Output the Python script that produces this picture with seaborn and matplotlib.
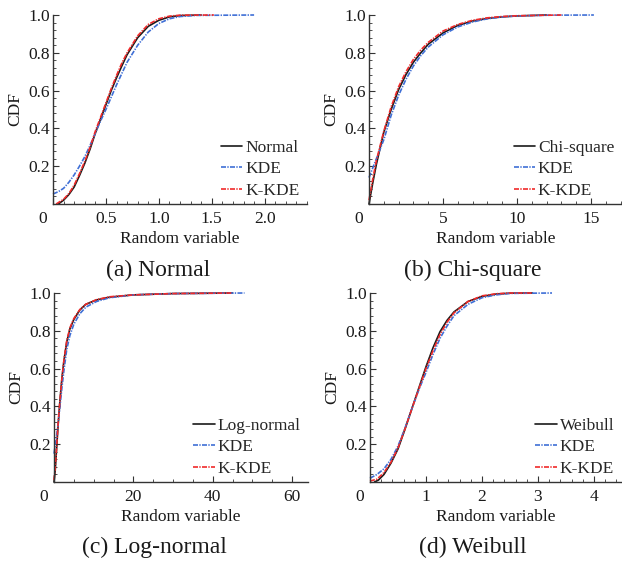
import numpy as np
import pandas as pd
import seaborn as sns
import matplotlib.pyplot as plt
import matplotlib.transforms as mtransforms
from matplotlib.ticker import MultipleLocator

# (a) Normal
norm_x = [0.05, 0.1, 0.15, 0.2, 0.25, 0.3, 0.35, 0.4, 0.45, 0.5, 0.55, 0.6, 0.65, 0.7, 0.8, 0.9, 1.0, 1.1, 1.2, 1.4]
norm_y = [0.0, 0.02, 0.05, 0.09, 0.15, 0.215, 0.29, 0.375, 0.45, 0.525, 0.60, 0.667, 0.73, 0.79, 0.88, 0.94, 0.972, 0.99, 0.997, 1.0]
norm_kde_x = [0.0, 0.05, 0.1, 0.15, 0.2, 0.25, 0.3, 0.35, 0.4, 0.45, 0.5, 0.55, 0.6, 0.65, 0.7, 0.8, 0.9, 1.0, 1.1, 1.2, 1.35, 1.9]
norm_kde_y = [0.053, 0.065, 0.083, 0.115, 0.154, 0.20, 0.25, 0.31, 0.375, 0.44, 0.50, 0.565, 0.63, 0.69, 0.75, 0.84, 0.91, 0.955, 0.98, 0.992, 0.998, 1.0]
norm_kkde_x = [0.03, 0.1, 0.15, 0.2, 0.25, 0.3, 0.35, 0.4, 0.45, 0.5, 0.55, 0.6, 0.65, 0.7, 0.8, 0.9, 1.0, 1.1, 1.2, 1.52]
norm_kkde_y = [0.0, 0.025, 0.055, 0.10, 0.16, 0.225, 0.30, 0.385, 0.46, 0.535, 0.61, 0.68, 0.745, 0.80, 0.89, 0.95, 0.98, 0.994, 0.999, 1.0]

# (b) Chi-square
chi_x = [0.0, 0.25, 0.5, 1.0, 1.5, 2.0, 2.5, 3.0, 3.5, 4.0, 5.0, 6.0, 7.0, 8.0, 9.0, 10.0, 12.0]
chi_y = [0.0, 0.11, 0.21, 0.38, 0.50, 0.605, 0.685, 0.75, 0.80, 0.845, 0.905, 0.945, 0.968, 0.982, 0.99, 0.995, 1.0]
chi_kde_x = [0.0, 0.5, 1.0, 1.5, 2.0, 2.5, 3.0, 3.5, 4.0, 5.0, 6.0, 7.0, 8.0, 9.0, 10.0, 12.0, 15.2]
chi_kde_y = [0.14, 0.24, 0.34, 0.47, 0.575, 0.66, 0.73, 0.785, 0.83, 0.895, 0.937, 0.963, 0.98, 0.99, 0.995, 0.999, 1.0]
chi_kkde_x = [0.0, 0.25, 0.5, 1.0, 1.5, 2.0, 2.5, 3.0, 3.5, 4.0, 5.0, 6.0, 7.0, 8.0, 9.0, 10.0, 13.0]
chi_kkde_y = [0.02, 0.13, 0.23, 0.385, 0.515, 0.62, 0.70, 0.765, 0.815, 0.855, 0.915, 0.95, 0.972, 0.985, 0.992, 0.996, 1.0]

# (c) Log-normal
logn_x = [0.0, 0.3, 0.67, 1.0, 1.5, 2.0, 2.5, 3.2, 4.0, 5.0, 6.5, 8.0, 10.7, 14.0, 20.0, 30.0, 45.0]
logn_y = [0.0, 0.06, 0.18, 0.29, 0.43, 0.55, 0.64, 0.74, 0.81, 0.86, 0.91, 0.94, 0.963, 0.978, 0.99, 0.997, 1.0]
logn_kde_x = [0.0, 0.5, 1.0, 1.5, 2.0, 2.5, 3.2, 4.0, 5.0, 6.5, 8.0, 10.7, 14.0, 20.0, 30.0, 48.0]
logn_kde_y = [0.15, 0.22, 0.30, 0.40, 0.50, 0.59, 0.70, 0.775, 0.835, 0.89, 0.925, 0.955, 0.975, 0.99, 0.997, 1.0]
logn_kkde_x = [0.0, 0.3, 0.67, 1.0, 1.5, 2.0, 2.5, 3.2, 4.0, 5.0, 6.5, 8.0, 10.7, 14.0, 20.0, 30.0, 45.0]
logn_kkde_y = [0.01, 0.07, 0.19, 0.30, 0.43, 0.55, 0.645, 0.745, 0.815, 0.865, 0.912, 0.94, 0.965, 0.98, 0.99, 0.997, 1.0]

# (d) Weibull
weib_x = [0.08, 0.15, 0.25, 0.375, 0.5, 0.625, 0.75, 0.875, 1.0, 1.125, 1.25, 1.375, 1.5, 1.75, 2.0, 2.25, 2.5, 2.9]
weib_y = [0.0, 0.01, 0.04, 0.10, 0.175, 0.28, 0.39, 0.50, 0.61, 0.71, 0.795, 0.855, 0.90, 0.955, 0.982, 0.994, 0.999, 1.0]
weib_kde_x = [0.0, 0.125, 0.25, 0.375, 0.5, 0.625, 0.75, 0.875, 1.0, 1.125, 1.25, 1.375, 1.5, 1.75, 2.0, 2.25, 2.5, 3.25]
weib_kde_y = [0.02, 0.04, 0.07, 0.12, 0.19, 0.285, 0.39, 0.49, 0.58, 0.675, 0.76, 0.825, 0.88, 0.94, 0.975, 0.99, 0.998, 1.0]
weib_kkde_x = [0.0, 0.125, 0.25, 0.375, 0.5, 0.625, 0.75, 0.875, 1.0, 1.125, 1.25, 1.375, 1.5, 1.75, 2.0, 2.25, 2.5, 2.9]
weib_kkde_y = [0.005, 0.015, 0.05, 0.105, 0.18, 0.28, 0.39, 0.495, 0.60, 0.695, 0.78, 0.845, 0.895, 0.955, 0.985, 0.996, 1.0, 1.0]

panels = [
    ('Normal', '(a) Normal', (norm_x, norm_y), (norm_kde_x, norm_kde_y), (norm_kkde_x, norm_kkde_y),
     2.4, 0.5, 0.1, ['0', '0.5', '1.0', '1.5', '2.0']),
    ('Chi-square', '(b) Chi-square', (chi_x, chi_y), (chi_kde_x, chi_kde_y), (chi_kkde_x, chi_kkde_y),
     17.1, 5, 1, ['0', '5', '10', '15']),
    ('Log-normal', '(c) Log-normal', (logn_x, logn_y), (logn_kde_x, logn_kde_y), (logn_kkde_x, logn_kkde_y),
     64, 20, 5, ['0', '20', '40', '60']),
    ('Weibull', '(d) Weibull', (weib_x, weib_y), (weib_kde_x, weib_kde_y), (weib_kkde_x, weib_kkde_y),
     4.5, 1, 0.2, ['0', '1', '2', '3', '4']),
]

sns.set_style('ticks')
plt.rcParams['font.family'] = ['Liberation Serif', 'DejaVu Serif']

fig = plt.figure(figsize=(6.22, 5.68), dpi=100)
positions = [
    [53 / 622, 1 - 204 / 568, 254 / 622, 189 / 568],
    [369 / 622, 1 - 204 / 568, 253 / 622, 189 / 568],
    [54 / 622, 1 - 482 / 568, 254 / 622, 189 / 568],
    [370 / 622, 1 - 482 / 568, 252 / 622, 189 / 568],
]
captions_xy = [(158 / 622, 1 - 270 / 568), (473 / 622, 1 - 270 / 568),
               (154 / 622, 1 - 547 / 568), (473 / 622, 1 - 547 / 568)]

blue = '#3f6fd6'
red = '#f02a2a'
dashdot = (0, (3.0, 0.8, 0.8, 0.8))

for pos, cap_xy, (name, caption, ref, kde, kkde, xmax, major, minor, xlabels) in zip(positions, captions_xy, panels):
    ax = fig.add_axes(pos)
    sns.lineplot(x=ref[0], y=ref[1], ax=ax, color='#1a1a1a', lw=1.2, label=name, clip_on=False)
    sns.lineplot(x=kde[0], y=kde[1], ax=ax, color=blue, lw=1.2, linestyle=dashdot, label='KDE', clip_on=False)
    sns.lineplot(x=kkde[0], y=kkde[1], ax=ax, color=red, lw=1.2, linestyle=dashdot, label='K-KDE', clip_on=False)

    ax.set_xlim(0, xmax)
    ax.set_ylim(0, 1.0)
    ticks = [i * major for i in range(len(xlabels))]
    ax.set_xticks(ticks)
    ax.set_xticklabels(xlabels)
    ax.xaxis.set_minor_locator(MultipleLocator(minor))
    ax.set_yticks([0.2, 0.4, 0.6, 0.8, 1.0])
    ax.set_yticklabels(['0.2', '0.4', '0.6', '0.8', '1.0'])
    ax.yaxis.set_minor_locator(MultipleLocator(0.04))
    ax.tick_params(which='major', direction='in', length=4, width=0.8, labelsize=12.5, colors='#333333',
                   labelcolor='#1a1a1a')
    ax.tick_params(which='minor', direction='in', length=2, width=0.6, colors='#333333')
    ax.tick_params(axis='x', pad=5)
    ax.tick_params(axis='y', pad=2)
    sns.despine(ax=ax)
    for s in ('left', 'bottom'):
        ax.spines[s].set_color('#333333')
        ax.spines[s].set_linewidth(1.0)

    # origin label sits left of the axis corner
    lab0 = ax.get_xticklabels()[0]
    lab0.set_transform(lab0.get_transform() + mtransforms.ScaledTranslation(-10 / 100, 0, fig.dpi_scale_trans))

    ax.set_xlabel('Random variable', fontsize=12.5, labelpad=3, color='#1a1a1a')
    ax.set_ylabel('CDF', fontsize=12.5, labelpad=4, color='#1a1a1a')

    ax.legend(loc='lower right', bbox_to_anchor=(0.99, 0.0), frameon=False, fontsize=12.5,
              handlelength=1.25, handletextpad=0.15, labelspacing=0.3, borderaxespad=0.2,
              borderpad=0.1)

    fig.text(cap_xy[0], cap_xy[1], caption, ha='center', va='center', fontsize=17, color='#1a1a1a')

fig.savefig('out.png', dpi=100)
